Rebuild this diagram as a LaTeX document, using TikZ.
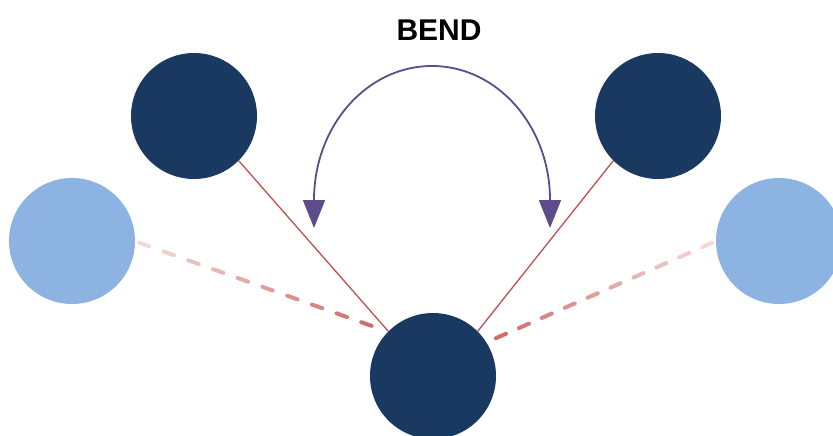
\documentclass[tikz,border=0pt]{standalone}
\usepackage{fontspec}
\setmainfont{Liberation Sans}
\usetikzlibrary{calc,arrows.meta}
\definecolor{navy}{RGB}{26,57,96}
\definecolor{sky}{RGB}{141,179,226}
\definecolor{redline}{RGB}{192,80,77}
\definecolor{purp}{RGB}{94,75,138}
\definecolor{dashA}{RGB}{243,218,217}
\definecolor{dashB}{RGB}{209,108,103}
\tikzset{
  dark/.style={circle,fill=navy,minimum size=126pt,inner sep=0pt},
  light/.style={circle,fill=sky,minimum size=126pt,inner sep=0pt},
  solidlink/.style={draw=redline,line width=1.3pt},
  fadedash/.style={line width=4pt,line cap=round},
  bendarc/.style={draw=purp,line width=1.8pt,{Triangle[width=22pt,length=28pt]}-{Triangle[width=22pt,length=28pt]}}
}
\begin{document}
\begin{tikzpicture}[x=1pt,y=-1pt]
\useasboundingbox (0,0) rectangle (833,436);
\clip (0,0) rectangle (833,436);
% fading dashed links (drawn below circles)
\coordinate (LA) at (137,242);
\coordinate (LB) at (386,331);
\coordinate (RA) at (714,242);
\coordinate (RB) at (485,343);
\foreach \i in {0,...,9}{
  \pgfmathsetmacro{\ta}{(\i*26.2+2)/264}
  \pgfmathsetmacro{\tb}{(\i*26.2+13)/264}
  \pgfmathsetmacro{\pc}{\i*11}
  \draw[fadedash,draw=dashB!\pc!dashA] ($(LA)!\ta!(LB)$) -- ($(LA)!\tb!(LB)$);
}
\foreach \i in {0,...,9}{
  \pgfmathsetmacro{\ta}{(\i*25+2)/250}
  \pgfmathsetmacro{\tb}{(\i*25+13)/250}
  \pgfmathsetmacro{\pc}{\i*11}
  \draw[fadedash,draw=dashB!\pc!dashA] ($(RA)!\ta!(RB)$) -- ($(RA)!\tb!(RB)$);
}
\node[light] (ll) at (72,241) {};
\node[light] (rl) at (779,241) {};
\node[dark] (tl) at (194,116) {};
\node[dark] (tr) at (658,116) {};
\node[dark] (bot) at (433,376) {};
\draw[solidlink] (tl.-45) -- (bot.135);
\draw[solidlink] (tr.-135) -- (bot.45);
% bend arc
\coordinate (al) at (314,228);
\coordinate (ar) at (550,228);
\draw[bendarc] (al) -- (314,200) arc[start angle=180,end angle=360,x radius=118,y radius=134] -- (ar);
\node[font=\bfseries\fontsize{30}{32}\selectfont] (title) at (439,30) {BEND};
\end{tikzpicture}
\end{document}
